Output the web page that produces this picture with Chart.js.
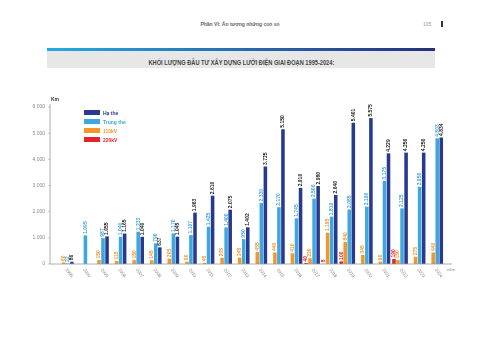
<!DOCTYPE html>
<html lang="vi">
<head>
<meta charset="utf-8">
<script src="https://cdn.jsdelivr.net/npm/chart.js@4.4.0/dist/chart.umd.min.js"></script>
<style>
  html, body { margin: 0; padding: 0; background: #fff; }
  body { width: 480px; height: 339px; position: relative; overflow: hidden;
         font-family: 'Liberation Sans Narrow', 'Liberation Sans', Arial, sans-serif; }
  #header { position: absolute; top: 21px; left: 0; width: 480px; text-align: center;
            font-size: 5px; color: #666; font-weight: bold; }
  #pageno { position: absolute; top: 21px; left: 423px; font-size: 5px; color: #999; }
  #pagebar { position: absolute; top: 21px; left: 441px; width: 1.5px; height: 6px; background: #333; }
  #band { position: absolute; left: 47px; top: 48px; width: 388px; height: 3px;
          background: linear-gradient(to right, #27aae1, #262f7c); }
  #titlebox { position: absolute; left: 47px; top: 51px; width: 388px; height: 17px;
              background: #e7e7e8; text-align: center; }
  #title { display: inline-block; font-weight: bold; font-size: 8px; line-height: 17px;
           color: #444; white-space: nowrap; transform-origin: center; }
  #chart-wrap { position: absolute; left: 0; top: 90px; width: 480px; height: 200px; }
  #legend { position: absolute; left: 84px; top: 108px; }
  .leg-row { height: 9px; display: flex; align-items: center; }
  .leg-sw { width: 16px; height: 5.5px; margin-right: 3px; }
  .leg-tx { font-size: 5px; font-weight: bold; }
</style>
</head>
<body>
<div id="header">Phần VI: Ấn tượng những con số</div>
<div id="pageno">105</div>
<div id="pagebar"></div>
<div id="band"></div>
<div id="titlebox"><span id="title">KHỐI LƯỢNG ĐẦU TƯ XÂY DỰNG LƯỚI ĐIỆN GIAI ĐOẠN 1995-2024:</span></div>
<div id="chart-wrap"><canvas id="chart" width="480" height="200"></canvas></div>
<div id="legend"></div>

<script>
// Data (km)
const years = ['1995', '2000', '2005', '2006', '2007', '2008', '2009', '2010', '2011', '2012', '2013',
               '2014', '2015', '2016', '2017', '2018', '2019', '2020', '2021', '2022', '2023', '2024'];
const haThe    = [86, null, 1055, 1165, 1040, 637, 1045, 1963, 2610, 2075, 1402,
                  3725, 5150, 2910, 2980, 2640, 5401, 5575, 4229, 4256, 4256, 4834];
const trungThe = [22, 1095, 987, 1040, 1233, 790, 1170, 1107, 1425, 1400, 950,
                  2330, 2170, 1745, 2500, 1810, 2085, 2190, 3175, 2125, 2950, 4803];
const kv110    = [60, null, 150, 115, 150, 145, 205, 90, 45, 235, 245,
                  455, 440, 410, 220, 1195, 840, 345, 90, 150, 275, 440];
const kv220    = [null, null, null, null, null, null, null, null, null, null, null,
                  null, null, null, 40, 8, 100, null, null, 190, null, null];
const yTicks = [0, 1000, 2000, 3000, 4000, 5000, 6000];

const C_HA = '#283a8f';
const C_TRUNG = '#3ea7df';
const C_110 = '#f5962a';
const C_220 = '#e12429';

// title fit
const title = document.getElementById('title');
title.style.transform = `scaleX(${186 / title.offsetWidth})`;

// legend
const legendItems = [
    ['Hạ thế', C_HA], ['Trung thế', C_TRUNG], ['110kV', C_110], ['220kV', C_220]
];
const legend = document.getElementById('legend');
legendItems.forEach(([name, color]) => {
    const row = document.createElement('div');
    row.className = 'leg-row';
    row.innerHTML = `<div class="leg-sw" style="background:${color}"></div><span class="leg-tx" style="color:${color}">${name}</span>`;
    legend.appendChild(row);
});

const fmt = v => String(v).replace(/\B(?=(\d{3})+(?!\d))/g, '.');

// value labels above each bar, rotated
const barLabels = {
    id: 'barLabels',
    afterDatasetsDraw(chart) {
        const ctx = chart.ctx;
        chart.data.datasets.forEach((ds, di) => {
            const meta = chart.getDatasetMeta(di);
            meta.data.forEach((bar, i) => {
                const v = ds.data[i];
                if (v == null) return;
                ctx.save();
                ctx.translate(bar.x, bar.y - 1.5);
                ctx.rotate(-Math.PI / 2);
                ctx.font = "bold 5px 'Liberation Sans Narrow', 'Liberation Sans', Arial";
                ctx.fillStyle = ds.labelColor;
                ctx.textAlign = 'left';
                ctx.textBaseline = 'middle';
                ctx.fillText(fmt(v), 0, 0);
                ctx.restore();
            });
        });
    }
};

// axis lines, slanted year labels, unit captions
const axisDecor = {
    id: 'axisDecor',
    afterDraw(chart) {
        const ctx = chart.ctx;
        const area = chart.chartArea;
        const y = chart.scales.y;
        const x = chart.scales.x;
        const ax = 50;
        ctx.save();
        ctx.strokeStyle = '#9a9a9a';
        ctx.lineWidth = 0.8;
        ctx.beginPath();
        ctx.moveTo(ax, area.top - 3);
        ctx.lineTo(ax, area.bottom);
        ctx.lineTo(452, area.bottom);
        ctx.stroke();
        yTicks.forEach(t => {
            const py = y.getPixelForValue(t);
            ctx.beginPath();
            ctx.moveTo(ax - 1.5, py);
            ctx.lineTo(ax, py);
            ctx.stroke();
        });

        ctx.fillStyle = '#777';
        ctx.font = "4.5px 'Liberation Sans Narrow', 'Liberation Sans', Arial";
        ctx.textAlign = 'left';
        ctx.textBaseline = 'middle';
        years.forEach((yr, i) => {
            ctx.save();
            ctx.translate(x.getPixelForTick(i) + 0.5, area.bottom + 5);
            ctx.rotate(Math.PI * 0.3);
            ctx.fillText(yr, 0, 0);
            ctx.restore();
        });

        ctx.fillStyle = '#333';
        ctx.font = "bold 5px 'Liberation Sans Narrow', 'Liberation Sans', Arial";
        ctx.fillText('Km', 51, area.top - 7);
        ctx.fillStyle = '#888';
        ctx.font = "4px 'Liberation Sans Narrow', 'Liberation Sans', Arial";
        ctx.fillText('năm', 447, area.bottom + 6);
        ctx.restore();
    }
};

const barOpts = { categoryPercentage: 0.92, barPercentage: 0.88 };

new Chart(document.getElementById('chart').getContext('2d'), {
    type: 'bar',
    data: {
        labels: years,
        datasets: [
            { label: '220kV', data: kv220, backgroundColor: C_220, labelColor: C_220, ...barOpts },
            { label: '110kV', data: kv110, backgroundColor: C_110, labelColor: C_110, ...barOpts },
            { label: 'Trung thế', data: trungThe, backgroundColor: C_TRUNG, labelColor: C_TRUNG, ...barOpts },
            { label: 'Hạ thế', data: haThe, backgroundColor: C_HA, labelColor: '#222', ...barOpts }
        ]
    },
    options: {
        responsive: false,
        animation: false,
        devicePixelRatio: 1,
        layout: { padding: { left: 0, right: 36, top: 17, bottom: 26 } },
        plugins: {
            legend: { display: false },
            tooltip: { enabled: false }
        },
        scales: {
            x: {
                grid: { display: false, drawTicks: false },
                border: { display: false },
                ticks: { display: false },
                afterFit: s => { s.height = 0; }
            },
            y: {
                min: 0,
                max: 6000,
                afterBuildTicks: s => { s.ticks = yTicks.map(v => ({ value: v })); },
                afterFit: s => { s.width = 57; },
                grid: { display: false, drawTicks: false },
                border: { display: false },
                ticks: {
                    padding: 12,
                    color: '#8a8a8a',
                    font: { size: 5, family: "'Liberation Sans Narrow', 'Liberation Sans', Arial" },
                    callback: v => fmt(v)
                }
            }
        }
    },
    plugins: [barLabels, axisDecor]
});
</script>
</body>
</html>
